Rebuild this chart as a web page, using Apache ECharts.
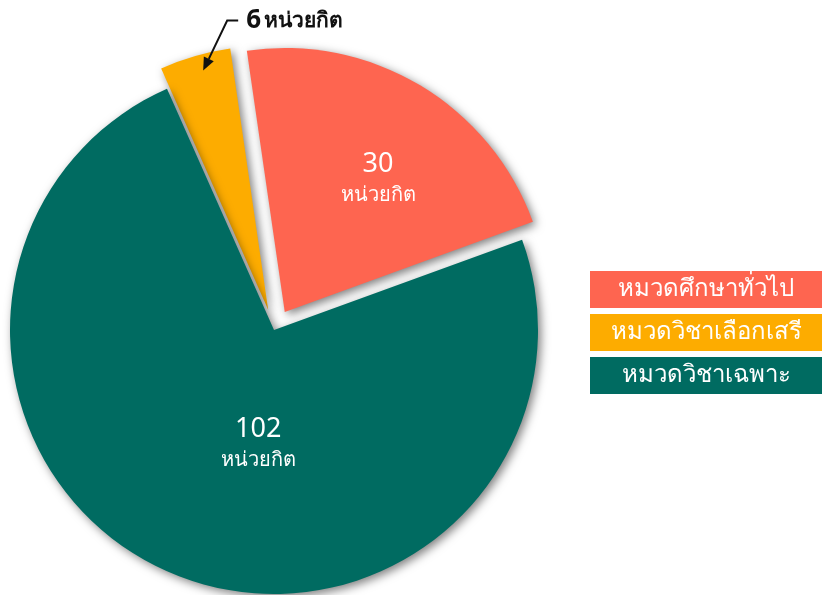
<!DOCTYPE html>
<html>
<head>
<meta charset="utf-8">
<script src="https://cdn.jsdelivr.net/npm/echarts@6/dist/echarts.min.js"></script>
<style>
  html, body { margin: 0; padding: 0; background: #fff; }
  #main { width: 822px; height: 595px; }
</style>
</head>
<body>
<div id="main"></div>
<script>
// ข้อมูลหน่วยกิตแต่ละหมวด
const categories = ['หมวดศึกษาทั่วไป', 'หมวดวิชาเลือกเสรี', 'หมวดวิชาเฉพาะ'];
const credits = [30, 6, 102];
const colors = ['#FE6550', '#FDAC00', '#006B61'];
const unit = 'หน่วยกิต';

const font = '"Noto Sans", sans-serif';
const chart = echarts.init(document.getElementById('main'));

// เลื่อนป้ายข้างในชิ้น (ชิ้นเล็กสีส้มใช้ป้ายแยกด้านนอก)
const labelShift = [[24, -17], null, [18.5, -5]];

const pieData = categories.map(function (name, i) {
  return {
    name: name,
    value: credits[i],
    selected: i !== 2,
    itemStyle: { color: colors[i] },
    label: { show: i !== 1 },
    labelLine: { show: false }
  };
});

const legendRich = {};
colors.forEach(function (c, i) {
  legendRich['b' + i] = {
    color: '#fff',
    backgroundColor: c,
    width: 232,
    height: 37,
    lineHeight: 37,
    align: 'center',
    fontSize: 24,
    fontFamily: font
  };
});

const option = {
  backgroundColor: '#fff',
  animation: false,
  legend: {
    orient: 'vertical',
    left: 580,
    top: 266,
    icon: 'none',
    itemWidth: 0,
    itemHeight: 0,
    itemGap: 6,
    selectedMode: false,
    data: categories,
    formatter: function (name) {
      return '{b' + categories.indexOf(name) + '|' + name + '}';
    },
    textStyle: { rich: legendRich }
  },
  series: [{
    type: 'pie',
    center: [274, 330],
    radius: 264,
    startAngle: 20,
    clockwise: false,
    selectedMode: 'multiple',
    selectedOffset: 21,
    emphasis: { disabled: true },
    itemStyle: {
      shadowBlur: 10,
      shadowColor: 'rgba(0,0,0,0.5)',
      shadowOffsetX: 3,
      shadowOffsetY: 3
    },
    label: {
      position: 'inside',
      formatter: '{v|{c}}\n{u|' + unit + '}',
      rich: {
        v: { fontSize: 27, color: '#fff', fontFamily: font, lineHeight: 33, align: 'center' },
        u: { fontSize: 20, color: '#fff', fontFamily: font, lineHeight: 30, align: 'center' }
      }
    },
    labelLayout: function (params) {
      const d = labelShift[params.dataIndex];
      if (d) return { dx: d[0], dy: d[1] };
    },
    data: pieData
  }]
};

chart.setOption(option);

// ป้าย "6 หน่วยกิต" พร้อมลูกศรชี้ไปที่ชิ้นสีส้ม
try {
  const data = chart.getModel().getSeriesByIndex(0).getData();
  const el = data.getItemGraphicEl(1);
  const s = el.shape;
  const mid = (s.startAngle + s.endAngle) / 2;
  const rr = s.r - 15;
  const tip = [el.x + s.cx + rr * Math.cos(mid) + 4, el.y + s.cy + rr * Math.sin(mid)];
  const bend = [tip[0] + 24, tip[1] - 50];
  const end = [bend[0] + 11, bend[1]];
  const ang = Math.atan2(tip[1] - bend[1], tip[0] - bend[0]);
  const L = 13, W = 5.5;
  const bx = tip[0] - L * Math.cos(ang), by = tip[1] - L * Math.sin(ang);
  const nx = -Math.sin(ang) * W, ny = Math.cos(ang) * W;
  chart.setOption({
    graphic: [
      {
        type: 'polyline',
        z: 100,
        shape: { points: [[bx, by], bend, end] },
        style: { stroke: '#111', lineWidth: 2, fill: null }
      },
      {
        type: 'polygon',
        z: 100,
        shape: { points: [tip, [bx + nx, by + ny], [bx - nx, by - ny]] },
        style: { fill: '#111' }
      },
      {
        type: 'text',
        z: 100,
        x: end[0] + 8,
        y: end[1],
        style: {
          text: '{v|' + credits[1] + '} {u|' + unit + '}',
          verticalAlign: 'middle',
          align: 'left',
          rich: {
            v: { fontSize: 26, fontWeight: 'bold', fill: '#111', fontFamily: font },
            u: { fontSize: 21, fontWeight: 'bold', fill: '#111', fontFamily: font }
          }
        }
      }
    ]
  });
} catch (e) {
  console.error(e);
}
</script>
</body>
</html>
